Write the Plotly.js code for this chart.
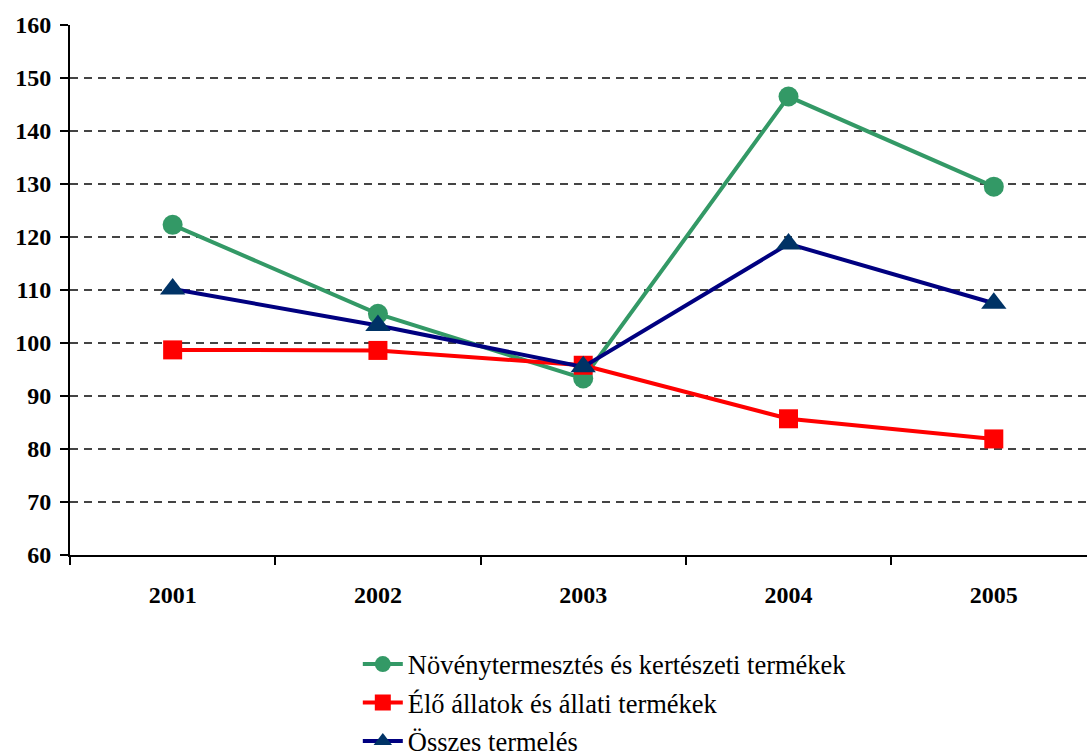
<!DOCTYPE html>
<html>
<head>
<meta charset="utf-8">
<script src="https://cdn.plot.ly/plotly-3.0.1.min.js"></script>
<style>html,body{margin:0;padding:0;background:#fff;}#chart{width:1087px;height:751px;}</style>
</head>
<body>
<div id="chart"></div>
<script>
const years = ["2001", "2002", "2003", "2004", "2005"];
const novenyValues = [122.3, 105.5, 93.3, 146.5, 129.5];
const allatValues = [98.7, 98.6, 95.8, 85.7, 81.9];
const osszesValues = [110.2, 103.3, 95.5, 118.7, 107.5];
const seriesNames = ["Növénytermesztés és kertészeti termékek", "Élő állatok és állati termékek", "Összes termelés"];

const SERIF = "Liberation Serif";

const traces = [
  {x: years, y: novenyValues, name: seriesNames[0], type: "scatter", mode: "lines+markers",
   line: {color: "#339966", width: 4}, marker: {symbol: "circle", size: 20, color: "#339966"}, legendgroup: "a"},
  {x: years, y: allatValues, name: seriesNames[1], type: "scatter", mode: "lines+markers",
   line: {color: "#FF0000", width: 4}, marker: {symbol: "square", size: 19, color: "#FF0000"}, legendgroup: "b"},
  {x: years, y: osszesValues, name: seriesNames[2], type: "scatter", mode: "lines+markers",
   line: {color: "#000080", width: 4}, marker: {symbol: "triangle-up", size: 22, color: "#003366"}, legendgroup: "c"}
];

const layout = {
  width: 1087, height: 751,
  margin: {l: 70, r: 0, t: 25, b: 196, autoexpand: false},
  paper_bgcolor: "#fff", plot_bgcolor: "#fff",
  font: {family: SERIF, color: "#000"},
  showlegend: true,
  legend: {x: 0.283, xanchor: "left", y: -0.161, yanchor: "top", orientation: "v",
    font: {size: 26.5, family: SERIF, color: "#000"},
    traceorder: "grouped", tracegroupgap: 1, itemwidth: 40, bgcolor: "rgba(0,0,0,0)"},
  xaxis: {type: "category", range: [-0.5, 4.454], showgrid: false, zeroline: false,
    showline: true, linecolor: "#000", linewidth: 2,
    ticks: "outside", tickson: "boundaries", ticklen: 8, tickwidth: 2, tickcolor: "#000",
    tickfont: {size: 24, family: SERIF, weight: "bold", color: "#000"},
    ticklabelstandoff: 17},
  yaxis: {range: [60, 160], dtick: 10, showgrid: true, gridcolor: "#444", gridwidth: 1.2, griddash: "8px,6px",
    zeroline: false, showline: true, linecolor: "#000", linewidth: 2,
    ticks: "outside", ticklen: 8, tickwidth: 2, tickcolor: "#000",
    tickfont: {size: 24, family: SERIF, weight: "bold", color: "#000"},
    ticklabelstandoff: 4}
};

Plotly.newPlot("chart", traces, layout, {staticPlot: true, displayModeBar: false});
</script>
</body>
</html>
